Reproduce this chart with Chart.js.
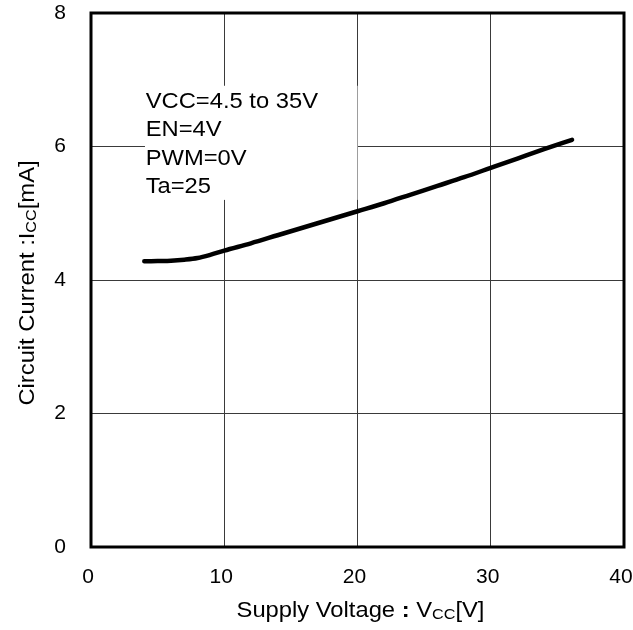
<!DOCTYPE html>
<html>
<head>
<meta charset="utf-8">
<script src="https://cdn.jsdelivr.net/npm/chart.js@4/dist/chart.umd.min.js"></script>
<style>
  html, body { margin: 0; padding: 0; background: #fff; }
  #wrap { width: 633px; height: 630px; }
</style>
</head>
<body>
<div id="wrap"><canvas id="iccChart" width="633" height="630"></canvas></div>
<script>
// supply voltage [V] and circuit current [mA]
const vccValues = [4, 5, 6, 7, 8, 9, 10, 12, 14, 16, 18, 20, 22, 24, 26, 28, 30, 32, 34, 36.1];
const iccValues = [4.28, 4.285, 4.29, 4.305, 4.33, 4.38, 4.44, 4.55, 4.67, 4.79, 4.91, 5.03, 5.15, 5.28, 5.41, 5.54, 5.68, 5.82, 5.96, 6.10];
const xTicks = [0, 10, 20, 30, 40];
const yTicks = [0, 2, 4, 6, 8];
const noteLines = ['VCC=4.5 to 35V', 'EN=4V', 'PWM=0V', 'Ta=25'];

const FONT = "'Liberation Sans', Arial, sans-serif";
const STRETCH = 1.08; // the reference text is a bit wide

// draws text made of pieces (for subscripts), centered on x
function drawRich(ctx, parts, x, y) {
    let total = 0;
    parts.forEach(p => {
        ctx.font = (p.bold ? 'bold ' : '') + p.size + 'px ' + FONT;
        p.w = ctx.measureText(p.t).width;
        total += p.w;
    });
    ctx.save();
    ctx.translate(x, y);
    ctx.scale(STRETCH, 1);
    let cx = -total / 2;
    parts.forEach(p => {
        ctx.font = (p.bold ? 'bold ' : '') + p.size + 'px ' + FONT;
        ctx.fillText(p.t, cx, p.dy || 0);
        cx += p.w;
    });
    ctx.restore();
}

const framePlugin = {
    id: 'frame',
    beforeDatasetsDraw(chart) {
        // white note box covering the grid
        const ctx = chart.ctx, xs = chart.scales.x, ys = chart.scales.y;
        const x0 = xs.getPixelForValue(4.05), x1 = xs.getPixelForValue(20);
        const y0 = ys.getPixelForValue(6.91), y1 = ys.getPixelForValue(5.2);
        ctx.save();
        ctx.fillStyle = '#fff';
        ctx.fillRect(x0, y0, x1 - x0, y1 - y0);
        ctx.fillStyle = '#000';
        ctx.font = '22px ' + FONT;
        ctx.textAlign = 'left';
        ctx.textBaseline = 'alphabetic';
        const noteY = [6.575, 6.15, 5.725, 5.3];
        noteLines.forEach((t, i) => {
            ctx.save();
            ctx.translate(xs.getPixelForValue(4.1), ys.getPixelForValue(noteY[i]));
            ctx.scale(STRETCH, 1);
            ctx.fillText(t, 0, 0);
            ctx.restore();
        });
        ctx.restore();
    },
    afterDraw(chart) {
        const ctx = chart.ctx, a = chart.chartArea;
        ctx.save();
        ctx.strokeStyle = '#000';
        ctx.lineWidth = 3;
        ctx.strokeRect(a.left, a.top, a.right - a.left, a.bottom - a.top);

        ctx.fillStyle = '#000';
        ctx.textAlign = 'left';
        ctx.textBaseline = 'alphabetic';
        drawRich(ctx, [
            {t: 'Supply Voltage ', size: 22},
            {t: ':', size: 22, bold: true},
            {t: ' V', size: 22},
            {t: 'CC', size: 15, dy: 2},
            {t: '[V]', size: 22}
        ], (a.left + a.right) / 2 + 3, 617);

        ctx.translate(34, (a.top + a.bottom) / 2 + 3);
        ctx.rotate(-Math.PI / 2);
        drawRich(ctx, [
            {t: 'Circuit Current :I', size: 22},
            {t: 'CC', size: 15, dy: 2},
            {t: '[mA]', size: 22}
        ], 0, 0);
        ctx.restore();
    }
};

document.addEventListener('DOMContentLoaded', function () {
    const points = vccValues.map((v, i) => ({x: v, y: iccValues[i]}));
    new Chart(document.getElementById('iccChart').getContext('2d'), {
        type: 'scatter',
        data: {
            datasets: [{
                data: points,
                showLine: true,
                borderColor: '#000',
                borderWidth: 4.5,
                borderCapStyle: 'round',
                cubicInterpolationMode: 'monotone',
                pointRadius: 0,
                pointHoverRadius: 0
            }]
        },
        options: {
            responsive: false,
            animation: false,
            events: [],
            layout: {padding: {left: 0, right: 9, top: 13, bottom: 0}},
            plugins: {legend: {display: false}, tooltip: {enabled: false}},
            scales: {
                x: {
                    type: 'linear', min: 0, max: 40,
                    afterBuildTicks: s => { s.ticks = xTicks.map(v => ({value: v})); },
                    afterFit: s => { s.height = 83; s.paddingLeft = 0; s.paddingRight = 0; },
                    grid: {color: '#3a3a3a', lineWidth: 1, drawTicks: false, tickLength: 0},
                    border: {display: false},
                    ticks: {color: '#000', padding: 18, labelOffset: -3, font: {family: FONT, size: 21}}
                },
                y: {
                    type: 'linear', min: 0, max: 8,
                    afterBuildTicks: s => { s.ticks = yTicks.map(v => ({value: v})); },
                    afterFit: s => { s.width = 91; s.paddingTop = 0; s.paddingBottom = 0; },
                    grid: {color: '#3a3a3a', lineWidth: 1, drawTicks: false, tickLength: 0},
                    border: {display: false},
                    ticks: {color: '#000', padding: 25, font: {family: FONT, size: 21}}
                }
            }
        },
        plugins: [framePlugin]
    });
});
</script>
</body>
</html>
